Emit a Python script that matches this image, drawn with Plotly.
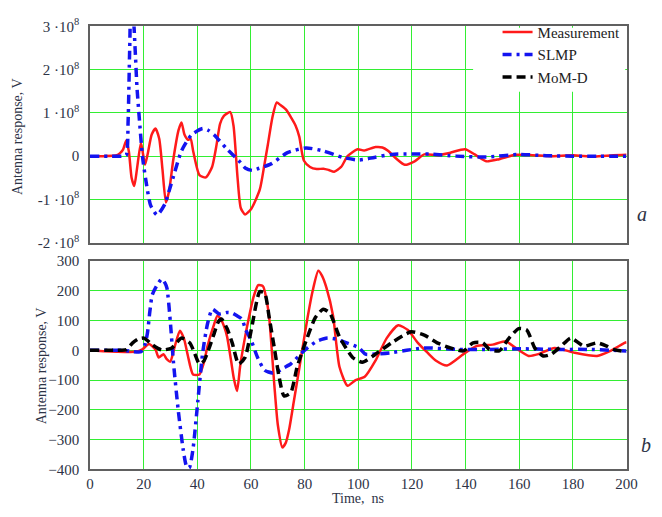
import plotly.graph_objects as go
import numpy as np

# ---------- Panel a (values in units of 1e8 V) ----------
meas_a_t = [0, 5, 10, 11.2, 12.3, 13.5, 14.5, 15.5, 16.5, 17.5, 19, 20.5, 21.5, 23, 24.4, 25.8, 27, 28.3,
            29.5, 31, 33, 34.1, 35.2, 36.5, 37.5, 38.5, 40.8, 43.2, 45.5, 47, 48.5, 49.9, 52.3, 53.5, 55,
            56.2, 57.8, 60.2, 63.3, 65, 66.3, 68, 69.6, 71, 73, 76.6, 78, 79.7, 82, 84.5, 87, 89, 91, 93.6,
            96, 99.7, 102.2, 106.4, 109, 111.2, 114, 117.3, 121, 124.6, 129.5, 134.3, 139.8, 143.4, 147.7,
            152.5, 158.6, 165, 172, 180, 188, 195, 200]
meas_a_v = [0, 0, 0.02, 0.07, 0.15, 0.36, 0.1, -0.5, -0.69, -0.3, 0.31, -0.2, 0.05, 0.5, 0.64, 0.4, -0.3, -1.07,
            -0.8, -0.1, 0.6, 0.78, 0.5, 0.38, 0.4, 0.1, -0.44, -0.49, -0.25, 0.2, 0.75, 0.93, 1.02, 0.7, -0.5,
            -1.2, -1.35, -1.21, -0.77, -0.2, 0.27, 0.9, 1.24, 1.18, 1.08, 0.71, 0.45, -0.1, -0.25, -0.3, -0.29,
            -0.32, -0.36, -0.25, 0.0, 0.16, 0.13, 0.21, 0.2, 0.12, -0.05, -0.2, -0.12, 0.04, 0.02, 0.08, 0.16,
            0.04, -0.12, -0.07, 0.03, 0.02, 0.0, 0.02, -0.01, 0.02, 0.03]

slmp_a_t = [0, 12, 13.5, 14.2, 14.8, 15.3, 16, 16.8, 17.5, 18.3, 19.6, 20.8, 22.6, 25, 28, 29.5, 31.1, 34.1,
            37.8, 42, 44, 46.3, 51.1, 55.4, 58, 60.5, 63, 67.5, 73.6, 80.5, 87, 94.2, 100.3, 106, 112.4, 120,
            126.8, 136.5, 148.6, 159.4, 170, 180, 190, 200]
slmp_a_v = [0, 0, 0.02, 0.8, 2.5, 3.4, 3.3, 2.5, 1.6, 0.93, -0.03, -0.55, -1.14, -1.36, -1.1, -0.8, -0.47, 0.12,
            0.49, 0.64, 0.6, 0.49, 0.16, -0.1, -0.28, -0.33, -0.28, -0.18, 0.08, 0.19, 0.12, -0.03, -0.09,
            -0.03, 0.04, 0.05, 0.05, 0.0, -0.02, 0.04, 0.01, 0.0, 0.0, 0.0]

# ---------- Panel b (V) ----------
meas_b_t = [0, 5, 10, 15, 18, 19.5, 22, 24.4, 25.6, 27.4, 28.6, 29.9, 31.5, 33.5, 35, 36.5, 38.4, 40.8, 42.5,
            43.8, 46, 47.5, 48.7, 50, 51.1, 52.5, 53.6, 54.8, 56, 57.5, 59, 61, 62.7, 64.5, 65.8, 66.9, 68.7,
            70, 71.7, 73, 74.2, 76, 77.8, 80.9, 83, 85.1, 86.5, 88.2, 90.6, 93, 96, 99, 102.4, 106.4, 110.6,
            114.9, 118.5, 122.2, 125.8, 129, 133.1, 139.2, 144, 150.1, 155, 158.6, 163.5, 167.1, 173.2, 180.5,
            189, 193.8, 199.3, 200]
meas_b_v = [0, -3, -5, -6, -3, 3, 21, 3, -24, -13, -30, -38, 10, 66, 40, -19, -81, -81, -40,
            14, 80, 116, 105, 80, 46, -30, -94, -137, -51, 30, 100, 180, 219, 215, 170, 100, -116,
            -250, -326, -310, -267, -170, -72, 100, 200, 267, 250, 208, 116, -56, -119, -100, -89, -35, 41,
            84, 68, 25, -8, -35, -51, -13, 14, 19, 30, 8, -19, -13, 8, -8,
            -19, -3, 25, 27]

slmp_b_t = [0, 12, 15, 19, 20.5, 21.4, 22.3, 23.2, 25, 26.8, 28, 28.7, 29.9, 31.1, 32.9, 34.7, 36, 37, 38.4,
            40.2, 42, 43.8, 45.6, 48.2, 51, 53, 54.8, 56.6, 58, 60.2, 62.5, 65.1, 68, 69.9, 72, 74.8, 79.7,
            84.5, 88.5, 91.5, 94.2, 100.3, 102.7, 107, 112.4, 118, 124.6, 136.7, 148.9, 161, 173.2, 185.4,
            195, 200]
slmp_b_v = [0, 0, -3, -5, 20, 57, 130, 186, 219, 240, 225, 208, 100, -40, -202, -331, -390, -395, -331,
            -170, -8, 89, 138, 122, 127, 125, 116, 105, 70, 30, -25, -67, -76, -72, -60, -46, -2,
            30, 41, 38, 30, 8, -13, -12, -8, 0, 8, 3, 3, 5, 3, 3,
            0, -2]

momd_b_t = [0, 10, 13.5, 15.9, 18, 20.1, 23.2, 26.8, 30.5, 34.1, 37.2, 39, 40.8, 42.5, 44.5, 46.3, 47.8, 49,
            51.1, 53, 55.4, 57.8, 60.2, 63.3, 65.1, 66.8, 68.7, 70.5, 72.3, 74.8, 77.2, 80.9, 84, 86.9, 89.4,
            93, 97.9, 101.5, 106.4, 112.4, 119.7, 124.6, 129.4, 134.3, 139.2, 142.8, 146.4, 148.9, 152.5,
            156.2, 159.8, 162.8, 165.8, 168.9, 171.9, 175.6, 179.2, 184.1, 189, 192.6, 195, 200]
momd_b_v = [0, 0, 2, 25, 38, 41, 19, 1, 8, 41, 25, -10, -46, -35, 10, 57, 95, 105,
            73, 25, -46, -24, 73, 197, 192, 110, 8, -90, -153, -143, -56, 41, 110, 138, 125,
            45, -24, -40, -13, 25, 62, 51, 25, 8, -2, 25, 25, 3, -2,
            41, 73, 68, 8, -19, -13, 14, 41, 14, 25, 14, 3, -5]

x_ticks = [0, 20, 40, 60, 80, 100, 120, 140, 160, 180, 200]
ya_tickvals = [-2e8, -1e8, 0, 1e8, 2e8, 3e8]
ya_ticktext = ["-2 ·10<sup>8</sup>", "-1 ·10<sup>8</sup>", "0", "1 ·10<sup>8</sup>", "2 ·10<sup>8</sup>", "3 ·10<sup>8</sup>"]
yb_tickvals = [-400, -300, -200, -100, 0, 100, 200, 300]

RED = "#ff1a1a"
BLUE = "#1414f0"
BLACK = "#000000"
GRID = "#33ee33"
FRAME = "#606060"
TXT = "#2d3346"
FONT = "'Liberation Serif', 'DejaVu Serif', 'Times New Roman', serif"

W, H = 662, 517
def px_x(p):
    return p / W
def px_y(p):
    return 1 - p / H

fig = go.Figure()
sm = 0.6
fig.add_trace(go.Scatter(x=meas_a_t, y=np.array(meas_a_v) * 1e8, mode="lines", name="Measurement",
                         line=dict(color=RED, width=2.5, shape="spline", smoothing=sm),
                         xaxis="x", yaxis="y", legendgroup="m"))
fig.add_trace(go.Scatter(x=slmp_a_t, y=np.array(slmp_a_v) * 1e8, mode="lines", name="SLMP",
                         line=dict(color=BLUE, width=3.5, dash="9px,5px,3px,5px", shape="spline", smoothing=sm),
                         xaxis="x", yaxis="y", legendgroup="s"))
fig.add_trace(go.Scatter(x=[None], y=[None], mode="lines", name="MoM-D",
                         line=dict(color=BLACK, width=3.5, dash="9px,5px"),
                         xaxis="x", yaxis="y", legendgroup="d"))

fig.add_trace(go.Scatter(x=meas_b_t, y=meas_b_v, mode="lines", name="Measurement", showlegend=False,
                         line=dict(color=RED, width=2.5, shape="spline", smoothing=sm),
                         xaxis="x2", yaxis="y2"))
fig.add_trace(go.Scatter(x=slmp_b_t, y=slmp_b_v, mode="lines", name="SLMP", showlegend=False,
                         line=dict(color=BLUE, width=3.5, dash="9px,5px,3px,5px", shape="spline", smoothing=sm),
                         xaxis="x2", yaxis="y2"))
fig.add_trace(go.Scatter(x=momd_b_t, y=momd_b_v, mode="lines", name="MoM-D", showlegend=False,
                         line=dict(color=BLACK, width=3.5, dash="9px,5px", shape="spline", smoothing=sm),
                         xaxis="x2", yaxis="y2"))

xdom = [px_x(88), px_x(637)]
common_x = dict(range=[0, 200], tickvals=x_ticks, showgrid=True, gridcolor=GRID, gridwidth=1,
                zeroline=False, showline=True, linecolor=FRAME, linewidth=1.5, mirror=True,
                ticks="", tickfont=dict(family=FONT, size=15, color=TXT))
common_y = dict(showgrid=True, gridcolor=GRID, gridwidth=1, zeroline=False, showline=True,
                linecolor=FRAME, linewidth=1.5, mirror=True, ticks="", ticklabelstandoff=6,
                tickfont=dict(family=FONT, size=15, color=TXT))

fig.update_layout(
    width=W, height=H,
    margin=dict(l=0, r=0, t=0, b=0),
    paper_bgcolor="white", plot_bgcolor="white",
    font=dict(family=FONT, size=14, color=TXT),
    xaxis=dict(domain=xdom, anchor="y", showticklabels=False, **common_x),
    yaxis=dict(domain=[px_y(241), px_y(17)], anchor="x", range=[-2e8, 3e8],
               tickvals=ya_tickvals, ticktext=ya_ticktext, **common_y),
    xaxis2=dict(domain=xdom, anchor="y2", showticklabels=True, **common_x),
    yaxis2=dict(domain=[px_y(476), px_y(260)], anchor="x2", range=[-400, 300],
                tickvals=yb_tickvals, **common_y),
    legend=dict(x=px_x(505), y=px_y(6), xanchor="left", yanchor="top",
                bgcolor="rgba(0,0,0,0)", borderwidth=0, font=dict(family=FONT, size=15, color="#222"),
                tracegroupgap=0, itemwidth=30),
    showlegend=True,
)

# white patch behind the legend (over the grid, under the traces) in panel a
fig.add_shape(type="rect", xref="x", yref="y", layer="between",
              x0=142.8, x1=199.5, y0=1.49e8, y1=2.97e8,
              fillcolor="white", line=dict(width=0))

annots = [
    dict(text="Antenna response, V", x=px_x(14), y=px_y(131), textangle=-90),
    dict(text="Antenna response, V", x=px_x(38), y=px_y(369), textangle=-90),
    dict(text="Time,  ns", x=px_x(362), y=px_y(506)),
    dict(text="<i>a</i>", x=px_x(653), y=px_y(211), font=dict(family=FONT, size=20, color=TXT)),
    dict(text="<i>b</i>", x=px_x(657), y=px_y(451), font=dict(family=FONT, size=20, color=TXT)),
]
for a in annots:
    fig.add_annotation(xref="paper", yref="paper", showarrow=False, xanchor="center", yanchor="middle",
                       font=a.pop("font", dict(family=FONT, size=14, color=TXT)), **a)

fig.write_html("out.html")
